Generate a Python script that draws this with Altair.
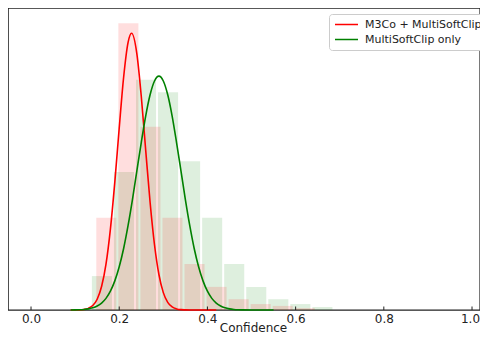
import altair as alt
import pandas as pd

# ---- data ----
series_names = ["M3Co + MultiSoftClip", "MultiSoftClip only"]
series_colors = ["red", "green"]

bin_width = 0.05
red_bin_starts = [0.148, 0.198, 0.248, 0.298, 0.348, 0.398, 0.448, 0.498, 0.548, 0.598]
red_density = [2.47, 7.69, 4.91, 2.47, 1.23, 0.62, 0.29, 0.16, 0.11, 0.05]

green_bin_starts = [0.138, 0.188, 0.238, 0.288, 0.338, 0.388, 0.438, 0.488, 0.538, 0.588, 0.638]
green_density = [0.91, 3.70, 6.17, 5.84, 3.99, 2.47, 1.23, 0.62, 0.29, 0.16, 0.08]

red_curve_x = [0.09, 0.10, 0.11, 0.12, 0.13, 0.14, 0.15, 0.16, 0.17, 0.18, 0.19, 0.20, 0.21,
               0.22, 0.228, 0.24, 0.25, 0.26, 0.27, 0.28, 0.29, 0.30, 0.31, 0.32, 0.33, 0.34,
               0.35, 0.36, 0.38, 0.42]
red_curve_y = [0.0, 0.001, 0.004, 0.015, 0.044, 0.119, 0.288, 0.629, 1.23, 2.17, 3.43, 4.88, 6.24,
               7.17, 7.42, 6.87, 5.73, 4.29, 2.89, 1.75, 0.952, 0.466, 0.205, 0.081, 0.029, 0.009,
               0.003, 0.001, 0.0, 0.0]

green_curve_x = [0.09, 0.10, 0.11, 0.12, 0.13, 0.14, 0.15, 0.16, 0.17, 0.18, 0.19, 0.20, 0.21,
                 0.22, 0.23, 0.24, 0.25, 0.26, 0.27, 0.28, 0.29, 0.30, 0.31, 0.32, 0.33, 0.34,
                 0.35, 0.36, 0.37, 0.38, 0.39, 0.40, 0.41, 0.42, 0.43, 0.44, 0.45, 0.46, 0.47,
                 0.48, 0.50, 0.55]
green_curve_y = [0.001, 0.003, 0.007, 0.015, 0.030, 0.058, 0.106, 0.186, 0.312, 0.505, 0.781, 1.16,
                 1.65, 2.26, 2.96, 3.73, 4.49, 5.20, 5.77, 6.14, 6.27, 6.14, 5.77, 5.20, 4.49, 3.73,
                 2.96, 2.26, 1.65, 1.16, 0.781, 0.505, 0.312, 0.186, 0.106, 0.058, 0.030, 0.015,
                 0.007, 0.003, 0.0, 0.0]

tick_values = [0.0, 0.2, 0.4, 0.6, 0.8, 1.0]

# ---- tables ----
red_hist = pd.DataFrame({"start": red_bin_starts, "density": red_density})
red_hist["end"] = red_hist["start"] + bin_width * 0.91
red_hist["zero"] = 0.0
green_hist = pd.DataFrame({"start": green_bin_starts, "density": green_density})
green_hist["end"] = green_hist["start"] + bin_width * 0.91
green_hist["zero"] = 0.0

curves = pd.concat([
    pd.DataFrame({"x": red_curve_x, "y": red_curve_y, "series": series_names[0], "o": 0}),
    pd.DataFrame({"x": green_curve_x, "y": green_curve_y, "series": series_names[1], "o": 1}),
])
ticks = pd.DataFrame({"v": tick_values})

xscale = alt.Scale(domain=[-0.0522, 1.0181], nice=False, zero=False)
yscale = alt.Scale(domain=[0, 8.097], nice=False)
xaxis = alt.Axis(values=tick_values, format=".1f", ticks=False, domain=False, grid=False,
                 labelFontSize=12, labelFont="DejaVu Sans", labelColor="#222", labelPadding=3,
                 labelOffset={"condition": {"test": "datum.value >= 1", "value": -2}, "value": 0},
                 title="Confidence", titleFontSize=12, titleFont="DejaVu Sans",
                 titleFontWeight="normal", titleColor="#222",
                 titleBaseline="alphabetic", titleX=245, titleY=21)

g_bars = alt.Chart(green_hist).mark_rect(color="green", opacity=0.13).encode(
    x=alt.X("start:Q", scale=xscale, axis=xaxis),
    x2="end:Q",
    y=alt.Y("density:Q", scale=yscale, axis=None),
    y2="zero:Q",
)
r_bars = alt.Chart(red_hist).mark_rect(color="red", opacity=0.13).encode(
    x=alt.X("start:Q", scale=xscale),
    x2="end:Q",
    y=alt.Y("density:Q", scale=yscale),
    y2="zero:Q",
)
lines = alt.Chart(curves).mark_line(strokeWidth=1.6, interpolate="monotone").encode(
    x=alt.X("x:Q", scale=xscale),
    y=alt.Y("y:Q", scale=yscale),
    color=alt.Color("series:N",
                    scale=alt.Scale(domain=series_names, range=series_colors),
                    legend=alt.Legend(title=None, orient="none", legendX=321, legendY=6,
                                      symbolType="stroke", symbolSize=529, symbolStrokeWidth=1.6,
                                      clipHeight=11,
                                      labelFontSize=11, labelFont="DejaVu Sans", labelColor="#222",
                                      labelOffset=6, rowPadding=3, padding=5,
                                      fillColor="white", strokeColor="#cccccc", cornerRadius=3)),
    order="o:Q",
)
tick_marks = alt.Chart(ticks).mark_rule(color="#222", strokeWidth=1).encode(
    x=alt.X("v:Q", scale=xscale),
    y=alt.value(302),
    y2=alt.value(298.5),
)

chart = alt.layer(g_bars, r_bars, lines, tick_marks).properties(
    width=472, height=302,
    autosize=alt.AutoSizeParams(type="none"),
    padding={"left": 0, "top": 0, "right": 0, "bottom": 25},
).configure_view(stroke="#222", strokeWidth=1.4)

chart.save("out.html", embed_options={"renderer": "svg", "actions": False})
